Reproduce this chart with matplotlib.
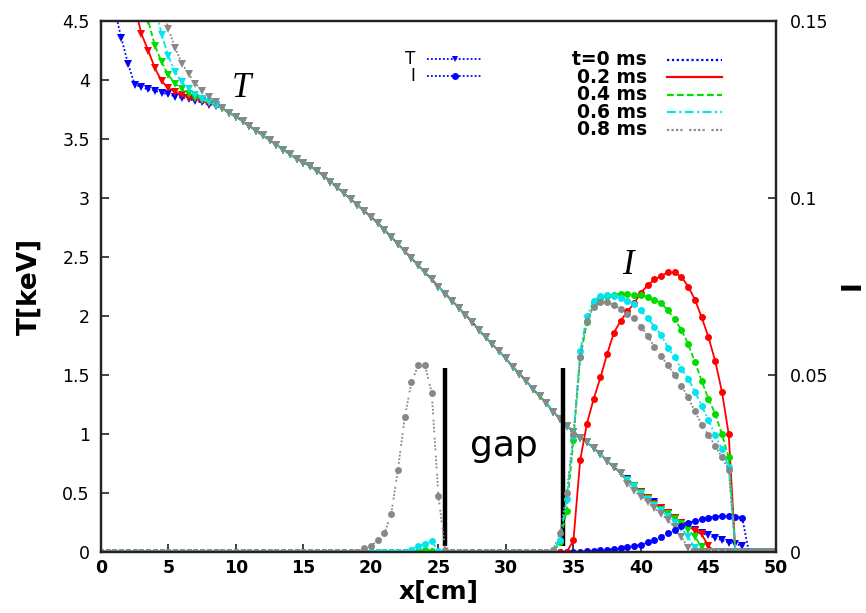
import numpy as np
import matplotlib
matplotlib.use("Agg")
import matplotlib.pyplot as plt
from matplotlib.lines import Line2D

# sample grid along the device [cm]
x = np.arange(0, 50.01, 0.5)

# ---- temperature T [keV] ----
# x = 0 .. 8.5 (differs per time)
T_head_t0 = [5.10, 4.85, 4.60, 4.36, 4.14, 3.96, 3.94, 3.92, 3.91, 3.89, 3.88, 3.86, 3.85, 3.84, 3.82, 3.81, 3.79, 3.78]
T_head_t02 = [6.20, 5.95, 5.70, 5.40, 5.05, 4.62, 4.39, 4.25, 4.10, 3.99, 3.93, 3.90, 3.87, 3.85, 3.84, 3.82, 3.80, 3.79]
T_head_t04 = [6.60, 6.35, 6.10, 5.85, 5.55, 5.20, 4.80, 4.50, 4.29, 4.15, 4.04, 3.97, 3.92, 3.88, 3.85, 3.83, 3.81, 3.79]
T_head_t06 = [6.90, 6.70, 6.45, 6.20, 5.95, 5.65, 5.30, 4.95, 4.63, 4.38, 4.20, 4.07, 3.98, 3.92, 3.87, 3.84, 3.81, 3.79]
T_head_t08 = [7.20, 7.00, 6.80, 6.55, 6.30, 6.00, 5.70, 5.35, 5.00, 4.68, 4.43, 4.27, 4.14, 4.05, 3.97, 3.91, 3.86, 3.81]
# x = 9 .. 38.5 (all times coincide)
T_mid = [3.76, 3.72, 3.69, 3.65, 3.61, 3.57, 3.53, 3.49, 3.45, 3.41,
         3.37, 3.33, 3.30, 3.27, 3.23, 3.19, 3.14, 3.09, 3.04, 2.99,
         2.94, 2.89, 2.84, 2.79, 2.73, 2.67, 2.61, 2.55, 2.49, 2.43,
         2.37, 2.31, 2.25, 2.19, 2.13, 2.07, 2.01, 1.95, 1.88, 1.82,
         1.76, 1.70, 1.64, 1.57, 1.51, 1.45, 1.38, 1.32, 1.26, 1.19,
         1.13, 1.07, 1.02, 0.97, 0.93, 0.88, 0.83, 0.77, 0.72, 0.67]
# x = 39 .. 50
T_tail_t0 = [0.62, 0.56, 0.51, 0.46, 0.42, 0.37, 0.33, 0.29, 0.25, 0.22, 0.19, 0.16, 0.14, 0.12, 0.10, 0.08, 0.07, 0.05] + [0.0] * 5
T_tail_t02 = [0.61, 0.56, 0.51, 0.46, 0.41, 0.37, 0.33, 0.29, 0.25, 0.22, 0.18, 0.15, 0.05] + [0.0] * 10
T_tail_t04 = [0.61, 0.56, 0.50, 0.45, 0.40, 0.36, 0.32, 0.28, 0.24, 0.19, 0.13, 0.04] + [0.0] * 11
T_tail_t06 = [0.60, 0.55, 0.49, 0.44, 0.39, 0.35, 0.30, 0.25, 0.20, 0.13, 0.03] + [0.0] * 12
T_tail_t08 = [0.58, 0.52, 0.47, 0.42, 0.37, 0.32, 0.27, 0.21, 0.13, 0.03] + [0.0] * 13

T_t0 = T_head_t0 + T_mid + T_tail_t0
T_t02 = T_head_t02 + T_mid + T_tail_t02
T_t04 = T_head_t04 + T_mid + T_tail_t04
T_t06 = T_head_t06 + T_mid + T_tail_t06
T_t08 = T_head_t08 + T_mid + T_tail_t08

# ---- current I (right axis) ----
I_t0 = [0.0] * 71 + [0.0001, 0.0002, 0.0003, 0.0005, 0.0007, 0.0008, 0.0010, 0.0013, 0.0017, 0.0020,
                     0.0027, 0.0033, 0.0043, 0.0053, 0.0063, 0.0073, 0.0082, 0.0088, 0.0093, 0.0097,
                     0.0100, 0.0102, 0.0102, 0.0100, 0.0097] + [0.0] * 5
I_t02 = [0.0] * 70 + [0.0033, 0.0260, 0.0363, 0.0433, 0.0493, 0.0560, 0.0620, 0.0653, 0.0680, 0.0703,
                      0.0733, 0.0753, 0.0770, 0.0780, 0.0790, 0.0790, 0.0777, 0.0750, 0.0713, 0.0663,
                      0.0607, 0.0540, 0.0453, 0.0333] + [0.0] * 7
I_t04 = ([0.0] * 47 + [0.0003, 0.0007, 0.0003] + [0.0] * 18
         + [0.0027, 0.0117, 0.0317, 0.0550, 0.0650, 0.0700, 0.0717, 0.0723, 0.0727, 0.0730,
            0.0730, 0.0727, 0.0727, 0.0720, 0.0713, 0.0703, 0.0683, 0.0657, 0.0627, 0.0587,
            0.0537, 0.0483, 0.0433, 0.0390, 0.0333, 0.0267] + [0.0] * 7)
I_t06 = ([0.0] * 46 + [0.0007, 0.0017, 0.0023, 0.0030, 0.0003] + [0.0] * 16
         + [0.0003, 0.0033, 0.0150, 0.0327, 0.0567, 0.0667, 0.0710, 0.0723, 0.0727, 0.0723,
            0.0717, 0.0710, 0.0700, 0.0683, 0.0660, 0.0637, 0.0613, 0.0577, 0.0550, 0.0517,
            0.0490, 0.0453, 0.0413, 0.0373, 0.0330, 0.0290, 0.0240] + [0.0] * 7)
I_t08 = ([0.0] * 39 + [0.0010, 0.0017, 0.0033, 0.0053, 0.0107, 0.0233, 0.0380, 0.0480, 0.0527, 0.0527,
                       0.0450, 0.0157, 0.0007] + [0.0] * 15
         + [0.0007, 0.0053, 0.0167, 0.0333, 0.0550, 0.0653, 0.0693, 0.0707, 0.0707, 0.0697,
            0.0687, 0.0673, 0.0660, 0.0637, 0.0610, 0.0580, 0.0553, 0.0527, 0.0500, 0.0470,
            0.0437, 0.0397, 0.0360, 0.0330, 0.0300, 0.0267, 0.0233] + [0.0] * 7)

times = ["t=0 ms", "0.2 ms", "0.4 ms", "0.6 ms", "0.8 ms"]
T_all = [T_t0, T_t02, T_t04, T_t06, T_t08]
I_all = [I_t0, I_t02, I_t04, I_t06, I_t08]

colors = ["#0000ff", "#ff0000", "#00dd00", "#00e5ee", "#888888"]
styles = [(0, (1, 1.2)), "-", (0, (3, 1.5)), (0, (4, 1.5, 1, 1.5)), (0, (1, 1, 1, 1, 1, 1, 1, 3))]

T_ticks = [0, 0.5, 1, 1.5, 2, 2.5, 3, 3.5, 4, 4.5]
T_ticklabels = ["0", "0.5", "1", "1.5", "2", "2.5", "3", "3.5", "4", "4.5"]
I_ticks = [0, 0.05, 0.1, 0.15]
I_ticklabels = ["0", "0.05", "0.1", "0.15"]
x_ticks = list(range(0, 51, 5))

# edges of the gap region and bar height
gap_edges = [25.5, 34.2]
gap_bar = (0.05, 1.56)

fig = plt.figure(figsize=(8.66, 6.13), dpi=100)
ax = fig.add_axes([0.1166, 0.0995, 0.896 - 0.1166, 0.9657 - 0.0995])
ax2 = ax.twinx()

for T, c, ls in zip(T_all, colors, styles):
    ax.plot(x, T, color=c, linestyle=ls, linewidth=1.3, marker="v", markersize=5.5,
            markeredgewidth=0)
for I, c, ls in zip(I_all, colors, styles):
    ax2.plot(x, I, color=c, linestyle=ls, linewidth=1.3, marker="o", markersize=5,
             markeredgewidth=0)

ax.vlines(gap_edges, gap_bar[0], gap_bar[1], colors="black", linewidth=3.2)
ax.text(29.85, 0.81, "gap", fontsize=26, ha="center", va="baseline")
ax.text(10.37, 3.86, "T", fontsize=25, family="Liberation Serif", style="italic",
        ha="center", va="baseline")
ax.text(39.04, 2.36, "I", fontsize=25, family="Liberation Serif", style="italic",
        ha="center", va="baseline")

ax.set_xlim(0, 50)
ax.set_ylim(0, 4.5)
ax2.set_ylim(0, 0.15)
ax.set_xticks(x_ticks)
ax.set_xticklabels([str(v) for v in x_ticks], fontweight="bold", fontsize=12.5)
ax.set_yticks(T_ticks)
ax.set_yticklabels(T_ticklabels, fontsize=12.5)
ax2.set_yticks(I_ticks)
ax2.set_yticklabels(I_ticklabels, fontsize=12.5)

ax.tick_params(axis="both", direction="in", length=6, width=1.2, color="#222222")
ax.tick_params(axis="y", pad=8)
ax.tick_params(axis="x", pad=5)
ax2.tick_params(axis="y", direction="in", length=6, width=1.2, color="#222222", pad=10)
for a in (ax, ax2):
    for s in a.spines.values():
        s.set_linewidth(1.6)
        s.set_color("#222222")

ax.set_xlabel("x[cm]", fontsize=18, fontweight="bold", labelpad=2)
ax.set_ylabel("T[keV]", fontsize=19, fontweight="bold", labelpad=14)
# right-hand axis name, right at the figure edge
fig.text(0.999, 0.535, "I", rotation=90, fontsize=19, fontweight="bold",
         ha="right", va="center")

# key for the marker types
key_rows = [0.9284, 0.8964]
for y, lab, mk in zip(key_rows, ["T", "I"], ["v", "o"]):
    ax2.text(0.4652, y, lab, transform=ax2.transAxes, fontsize=12, ha="right", va="center")
    ax2.add_line(Line2D([0.483, 0.5644], [y, y], transform=ax2.transAxes, color="#0000ff",
                        linestyle=(0, (1, 1.2)), linewidth=1.3))
    ax2.add_line(Line2D([0.5244], [y], transform=ax2.transAxes, color="#0000ff",
                        marker=mk, markersize=5, markeredgewidth=0))

# key for the times
time_rows = [0.9275, 0.8945, 0.8616, 0.8286, 0.7957]
for y, lab, c, ls in zip(time_rows, times, colors, styles):
    ax2.text(0.8089, y, lab, transform=ax2.transAxes, fontsize=13.5, fontweight="bold",
             ha="right", va="center")
    ax2.add_line(Line2D([0.8385, 0.92], [y, y], transform=ax2.transAxes, color=c,
                        linestyle=ls, linewidth=1.6))

fig.savefig("out.png", dpi=100)
